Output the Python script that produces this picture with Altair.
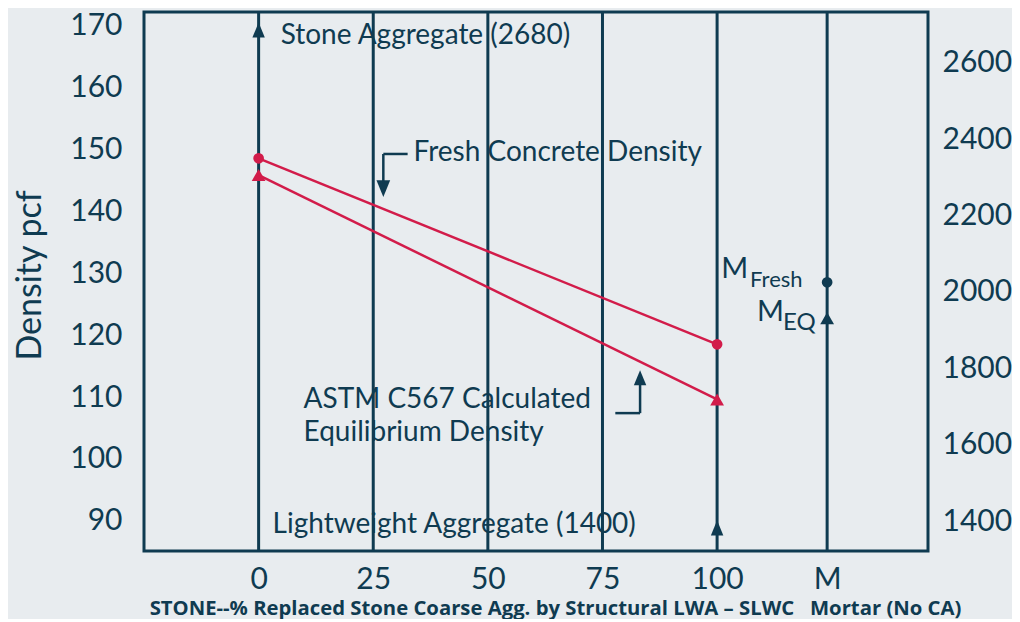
import altair as alt
import pandas as pd

NAVY = "#0f3b51"
RED = "#d21c4a"
BG = "#e8ecef"
FONT = "Lato"

# axis ticks / labels
x_ticks = [0, 25, 50, 75, 100, 124]
x_labels = ["0", "25", "50", "75", "100", "M"]
y_ticks = [90, 100, 110, 120, 130, 140, 150, 160, 170]
kg_ticks = [1400, 1600, 1800, 2000, 2200, 2400, 2600]

# series
pct = [0, 100]
fresh = [148.5, 118.5]
equil = [145.8, 109.6]
mortar_x = 124
mortar_fresh = 128.5
mortar_eq = 122.7

xs = alt.Scale(domain=[-25, 146], nice=False, zero=False)
ys = alt.Scale(domain=[85.16, 172.1], nice=False, zero=False)
ks = alt.Scale(domain=[1321.4, 2733.6], nice=False, zero=False)

label_expr = "datum.value == 124 ? 'M' : datum.label"

NB = "\u00a0"
xaxis = alt.Axis(values=x_ticks, labelExpr=label_expr, labelPadding=13,
                 title="STONE--% Replaced Stone Coarse Agg. by Structural LWA \u2013 SLWC" + NB * 3 + "Mortar (No CA)",
                 titleFont="Open Sans", titleFontSize=20.3, titleFontWeight="bold", titleX=411, titleY=57,
                 titleAlign="center", titleBaseline="middle")
yaxis = alt.Axis(values=y_ticks, labelPadding=22, title="Density pcf",
                 titleFontSize=34, titleFontWeight="normal", titleX=-114, titleY=263,
                 titleAlign="center", titleBaseline="middle", titleAngle=-90)

X = lambda f: alt.X(f, type="quantitative", scale=xs, axis=xaxis)
Y = lambda f: alt.Y(f, type="quantitative", scale=ys, axis=yaxis)

# vertical gridlines
grid = alt.Chart(pd.DataFrame({"x": x_ticks})).mark_rule(color=NAVY, strokeWidth=3).encode(
    x=X("x")
)

lines_df = pd.DataFrame({
    "x": pct + pct,
    "y": fresh + equil,
    "s": ["fresh"] * 2 + ["eq"] * 2,
})
lines = alt.Chart(lines_df).mark_line(color=RED, strokeWidth=2.5).encode(
    x=X("x"), y=Y("y"), detail="s:N"
)

red_circ = alt.Chart(pd.DataFrame({"x": pct, "y": fresh})).mark_point(
    shape="circle", filled=True, color=RED, size=115, opacity=1).encode(x=X("x"), y=Y("y"))
red_tri = alt.Chart(pd.DataFrame({"x": pct, "y": equil})).mark_point(
    shape="triangle-up", filled=True, color=RED, size=190, opacity=1).encode(x=X("x"), y=Y("y"))

m_circ = alt.Chart(pd.DataFrame({"x": [mortar_x], "y": [mortar_fresh]})).mark_point(
    shape="circle", filled=True, color=NAVY, size=115, opacity=1).encode(x=X("x"), y=Y("y"))
m_tri = alt.Chart(pd.DataFrame({"x": [mortar_x], "y": [mortar_eq]})).mark_point(
    shape="triangle-up", filled=True, color=NAVY, size=190, opacity=1).encode(x=X("x"), y=Y("y"))

# arrowheads
UP = "M0,-1L0.82,1L-0.82,1Z"
DOWN = "M-0.82,-1L0.82,-1L0,1Z"
up_df = pd.DataFrame({"x": [0, 100, 83.2], "y": [169.2, 88.9, 113.1]})
up_arrows = alt.Chart(up_df).mark_point(shape=UP, filled=True, color=NAVY, size=230, opacity=1).encode(
    x=X("x"), y=Y("y"))
down_arrows = alt.Chart(pd.DataFrame({"x": [27.2], "y": [143.6]})).mark_point(
    shape=DOWN, filled=True, color=NAVY, size=280, opacity=1).encode(x=X("x"), y=Y("y"))

# bent arrow shafts
seg_df = pd.DataFrame({
    "x": [27.2, 27.2, 77.8, 83.2],
    "x2": [32.5, 27.2, 83.2, 83.2],
    "y": [149.2, 149.2, 107.4, 107.4],
    "y2": [149.2, 144.5, 107.4, 112.5],
})
segs = alt.Chart(seg_df).mark_rule(color=NAVY, strokeWidth=2.5).encode(
    x=X("x"), x2="x2", y=Y("y"), y2="y2")

# annotation text
ann_df = pd.DataFrame({
    "x": [4.8, 33.8, 9.8, 9.8, 3.05],
    "y": [168.2, 149.4, 109.5, 104.2, 89.4],
    "t": ["Stone Aggregate (2680)", "Fresh Concrete Density", "ASTM C567 Calculated",
          "Equilibrium Density", "Lightweight Aggregate (1400)"],
})
ann = alt.Chart(ann_df).mark_text(align="left", baseline="middle", font=FONT, fontSize=28,
                                  color=NAVY).encode(x=X("x"), y=Y("y"), text="t:N")

big_df = pd.DataFrame({"x": [100.9, 108.7], "y": [130.6, 123.7], "t": ["M", "M"]})
big = alt.Chart(big_df).mark_text(align="left", baseline="middle", font=FONT, fontSize=29,
                                  color=NAVY).encode(x=X("x"), y=Y("y"), text="t:N")
sub_df = pd.DataFrame({"x": [107.2], "y": [128.9], "t": ["Fresh"]})
sub = alt.Chart(sub_df).mark_text(align="left", baseline="middle", font=FONT, fontSize=22,
                                  color=NAVY).encode(x=X("x"), y=Y("y"), text="t:N")
sub2_df = pd.DataFrame({"x": [114.4], "y": [121.9], "t": ["EQ"]})
sub2 = alt.Chart(sub2_df).mark_text(align="left", baseline="middle", font=FONT, fontSize=24,
                                    color=NAVY).encode(x=X("x"), y=Y("y"), text="t:N")

left = alt.layer(grid, lines, red_circ, red_tri, m_circ, m_tri, up_arrows, down_arrows,
                 segs, ann, big, sub, sub2)

right = alt.Chart(pd.DataFrame({"k": kg_ticks})).mark_point(opacity=0).encode(
    x=alt.value(0),
    y=alt.Y("k:Q", scale=ks, axis=alt.Axis(orient="right", values=kg_ticks, format="d",
                                           labelPadding=14, title=None)),
)

chart = alt.layer(left, right).resolve_scale(y="independent").properties(
    width=784, height=539, autosize=alt.AutoSizeParams(type="none"),
    padding={"left": 136, "top": 4, "right": 84, "bottom": 68},
    background=BG,
).configure_view(stroke=NAVY, strokeWidth=3).configure_axis(
    labelFont=FONT, labelColor=NAVY, labelFontSize=30, ticks=False, domain=False, grid=False,
    titleColor=NAVY, titleFont=FONT,
)

chart.save("out.html", embed_options={"renderer": "svg", "actions": False})
